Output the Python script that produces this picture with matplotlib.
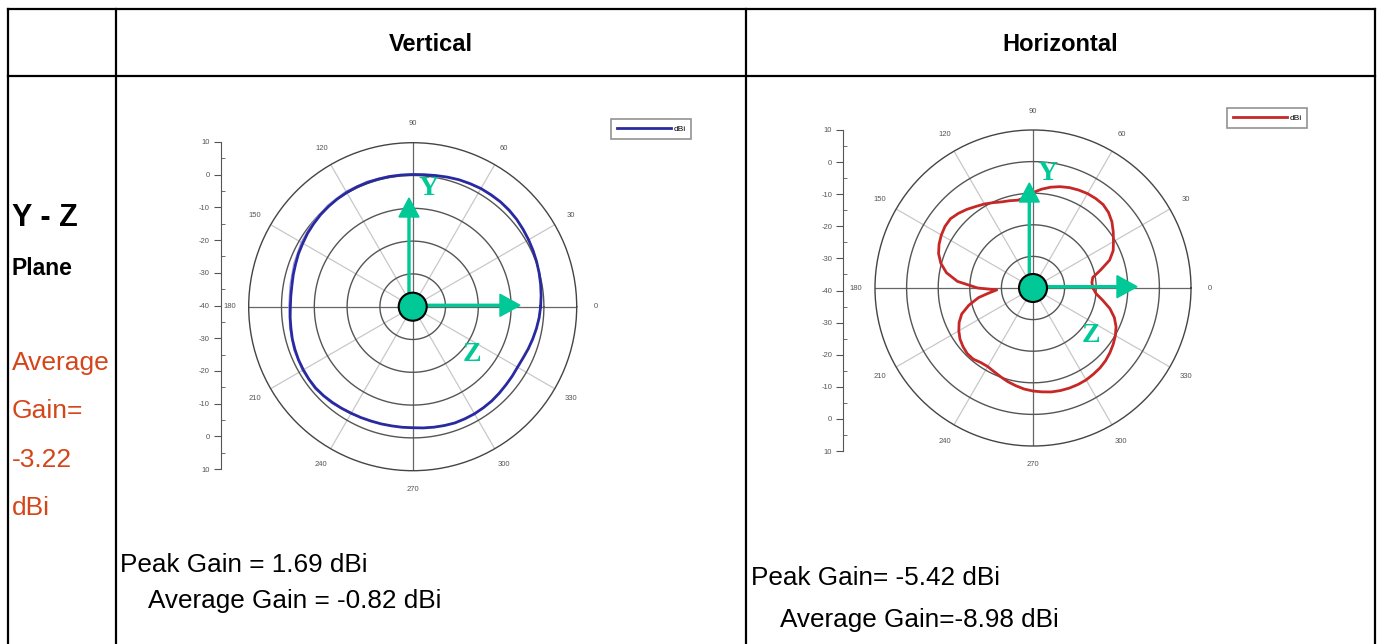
import matplotlib
matplotlib.use("Agg")
import matplotlib.pyplot as plt
from matplotlib.patches import FancyArrow, Circle
import numpy as np

plt.rcParams['font.family'] = ['Liberation Sans', 'DejaVu Sans']

W, H = 1382, 644

# ---- data (angle in deg, gain in dBi) ----
vert_angle = list(range(0, 361, 5))
vert_dbi = [-1.0, -0.7, -0.4, -0.1, 0.2, 0.5, 0.8, 1.1, 1.4, 1.6, 1.69, 1.65, 1.6, 1.4, 1.2, 0.9, 0.6, 0.4,
            0.3, 0.3, 0.3, 0.3, 0.3, 0.3, 0.2, 0.1, -0.1, -0.3, -0.6, -0.9, -1.3, -1.6, -2.0, -2.3, -2.6, -2.7,
            -2.7, -2.5, -2.3, -2.0, -1.8, -1.6, -1.5, -1.4, -1.4, -1.6, -1.9, -2.2, -2.5, -2.7, -2.9, -3.0,
            -3.1, -3.1, -3.1, -2.9, -2.7, -2.5, -2.3, -2.3, -2.3, -2.4, -2.5, -2.7, -2.9, -3.0, -3.1, -2.9,
            -2.5, -2.1, -1.7, -1.3, -1.0]
# faint second trace, slightly outside on the left half
vert_angle_2 = list(range(0, 361, 10))
vert_dbi_2 = [-1.0, -0.4, 0.2, 0.8, 1.3, 1.6, 1.5, 1.2, 0.7, 0.5, 0.6, 0.7, 0.7, 0.4, -0.1, -0.7, -1.4, -2.0,
              -2.2, -1.9, -1.4, -1.1, -1.0, -1.5, -2.2, -2.7, -3.0, -3.0, -2.7, -2.3, -2.3, -2.5, -2.9, -3.1,
              -2.5, -1.7, -1.0]

horz_angle = [0, 5, 10, 15, 20, 25, 30, 35, 40, 45, 50, 55, 60, 65, 70, 75, 80, 85, 90, 95, 100, 105, 110,
              115, 120, 125, 130, 135, 140, 145, 150, 155, 160, 165, 170, 175, 180, 183, 187, 190, 195, 200,
              205, 210, 215, 220, 225, 230, 235, 240, 245, 250, 255, 260, 265, 270, 275, 280, 285, 290, 295,
              300, 305, 310, 315, 320, 325, 330, 335, 340, 345, 350, 355, 360]
horz_dbi = [-21.0, -21.3, -20.8, -17.8, -14.2, -12.0, -10.6, -9.0, -7.4, -6.2, -5.5, -5.42, -5.5, -5.8,
            -6.2, -6.8, -7.6, -8.6, -9.8, -11.3, -11.8, -11.4, -11.0, -10.2, -9.3, -8.5, -7.5, -6.6, -5.9,
            -6.0, -6.5, -7.2, -8.2, -9.8, -12.2, -16.0, -22.5, -28.5, -25.5, -22.5, -19.0, -16.0, -14.2,
            -12.9, -11.8, -11.1, -10.6, -10.6, -11.2, -11.3, -10.8, -10.1, -9.3, -8.6, -7.9, -7.4, -7.0,
            -6.6, -6.4, -6.3, -6.3, -6.4, -6.7, -7.0, -7.5, -8.2, -9.0, -9.9, -11.0, -12.6, -14.8, -17.6,
            -20.0, -21.0]

theta_ticks = [0, 30, 60, 90, 120, 150, 180, 210, 240, 270, 300, 330]
ring_levels = [-30, -20, -10, 0]
scale_labels = ['10', '0', '-10', '-20', '-30', '-40', '-30', '-20', '-10', '0', '10']

GREEN = '#00c896'
ORANGE = '#d4461a'

fig = plt.figure(figsize=(W / 100, H / 100), dpi=100)


def rect(x0, y0, w, h):
    # pixel box (top-left origin) -> figure fraction
    return [x0 / W, (H - y0 - h) / H, w / W, h / H]


def polar_panel(cx, cy, R, series, colors, widths, legend_xy):
    ax = fig.add_axes(rect(cx - R, cy - R, 2 * R, 2 * R), projection='polar')
    ax.set_rlim(-40, 10)
    ax.set_thetagrids(theta_ticks, [str(t) for t in theta_ticks])
    ax.set_rgrids(ring_levels, [''] * len(ring_levels))
    ax.grid(False)
    ax.tick_params(axis='x', labelsize=5.5, colors='#555555', pad=3)
    ax.spines['polar'].set_color('#444444')
    ax.spines['polar'].set_linewidth(1.0)
    full = np.linspace(0, 2 * np.pi, 361)
    for t in range(0, 360, 30):
        c = '#666666' if t % 90 == 0 else '#c8c8c8'
        ax.plot([np.radians(t)] * 2, [-40, 10], color=c, lw=0.9, zorder=1)
    for lev in ring_levels:
        ax.plot(full, [lev] * len(full), color='#555555', lw=1.0, zorder=1)
    handles = []
    for (ang, vals), c, lw in zip(series, colors, widths):
        h, = ax.plot(np.radians(ang), vals, color=c, lw=lw, zorder=3)
        handles.append(h)
    leg = ax.legend([handles[-1]], ['dBi'], loc='center',
                    bbox_to_anchor=(legend_xy[0] / W, 1 - legend_xy[1] / H),
                    bbox_transform=fig.transFigure, fontsize=6, frameon=True,
                    fancybox=False, handlelength=6.5, borderpad=0.7, handletextpad=0.3,
                    borderaxespad=0)
    leg.get_frame().set_edgecolor('#777777')
    leg.get_frame().set_linewidth(1.2)
    return ax


def side_scale(x, y_top, y_bot):
    sa = fig.add_axes(rect(x, y_top, 1, y_bot - y_top))
    sa.set_ylim(-5, 5)
    sa.set_yticks(range(5, -6, -1))
    sa.set_yticklabels(scale_labels)
    sa.set_yticks(np.arange(-4.5, 5, 1), minor=True)
    sa.tick_params(axis='y', which='major', direction='out', length=5, labelsize=5.5,
                   colors='#555555', pad=3)
    sa.tick_params(axis='y', which='minor', direction='in', length=3, colors='#555555')
    sa.set_xticks([])
    for s in ['top', 'right', 'bottom']:
        sa.spines[s].set_visible(False)
    sa.spines['left'].set_color('#555555')
    sa.patch.set_alpha(0)


polar_panel(412.7, 306.7, 164,
            [(vert_angle_2, vert_dbi_2), (vert_angle, vert_dbi)],
            ['#9a9ae6', '#2a2aa0'], [0.8, 2.0], (651, 129))
polar_panel(1033, 288, 158, [(horz_angle, horz_dbi)], ['#c62828'], [2.0], (1267, 118))
side_scale(220.7, 142, 469)
side_scale(843.3, 130, 451)

# overlay in pixel coordinates for table, text and axes arrows
ov = fig.add_axes([0, 0, 1, 1], zorder=10)
ov.set_xlim(0, W)
ov.set_ylim(H, 0)
ov.axis('off')
ov.patch.set_alpha(0)

lw_tab = 1.6
for x in [8, 116, 746, 1375]:
    ov.plot([x, x], [9, H + 5], color='black', lw=lw_tab)
for y in [9, 76]:
    ov.plot([8, 1375], [y, y], color='black', lw=lw_tab)

ov.text(431, 44, 'Vertical', ha='center', va='center', fontsize=17, fontweight='bold')
ov.text(1060.5, 44, 'Horizontal', ha='center', va='center', fontsize=17, fontweight='bold')
ov.text(12, 218, 'Y - Z', ha='left', va='center', fontsize=22, fontweight='bold')
ov.text(12, 268, 'Plane', ha='left', va='center', fontsize=16.5, fontweight='bold')
for i, s in enumerate(['Average', 'Gain=', '-3.22', 'dBi']):
    ov.text(12, 363 + 48.3 * i, s, ha='left', va='center', fontsize=19, color=ORANGE)

ov.text(120, 571.7, 'Peak Gain = 1.69 dBi', ha='left', va='baseline', fontsize=18.8)
ov.text(148, 608.3, 'Average Gain = -0.82 dBi', ha='left', va='baseline', fontsize=18.8)
ov.text(751.5, 585, 'Peak Gain= -5.42 dBi', ha='left', va='baseline', fontsize=18.8)
ov.text(780, 626.7, 'Average Gain=-8.98 dBi', ha='left', va='baseline', fontsize=18.8)


def axes_marker(cx, cy, ux, tip_up, ry, tip_right, ylab, zlab):
    ov.add_patch(FancyArrow(ux, cy, 0, tip_up - cy, width=2, head_width=20, head_length=19,
                            length_includes_head=True, color=GREEN, zorder=5))
    ov.add_patch(FancyArrow(cx, ry, tip_right - cx, 0, width=2, head_width=22, head_length=20,
                            length_includes_head=True, color=GREEN, zorder=5))
    ov.add_patch(Circle((cx, cy), 14, facecolor=GREEN, edgecolor='black', lw=1.5, zorder=6))
    ov.text(ylab[0], ylab[1], 'Y', ha='center', va='center', fontsize=20, fontweight='bold',
            color=GREEN, family='Liberation Serif')
    ov.text(zlab[0], zlab[1], 'Z', ha='center', va='center', fontsize=20, fontweight='bold',
            color=GREEN, family='Liberation Serif')


axes_marker(412.7, 306.7, 409, 198, 305.3, 520, (429, 188), (472, 354))
axes_marker(1033, 288, 1029.3, 183, 286.7, 1137, (1048, 173), (1091, 335))

fig.savefig('out.png', dpi=100, facecolor='white')
